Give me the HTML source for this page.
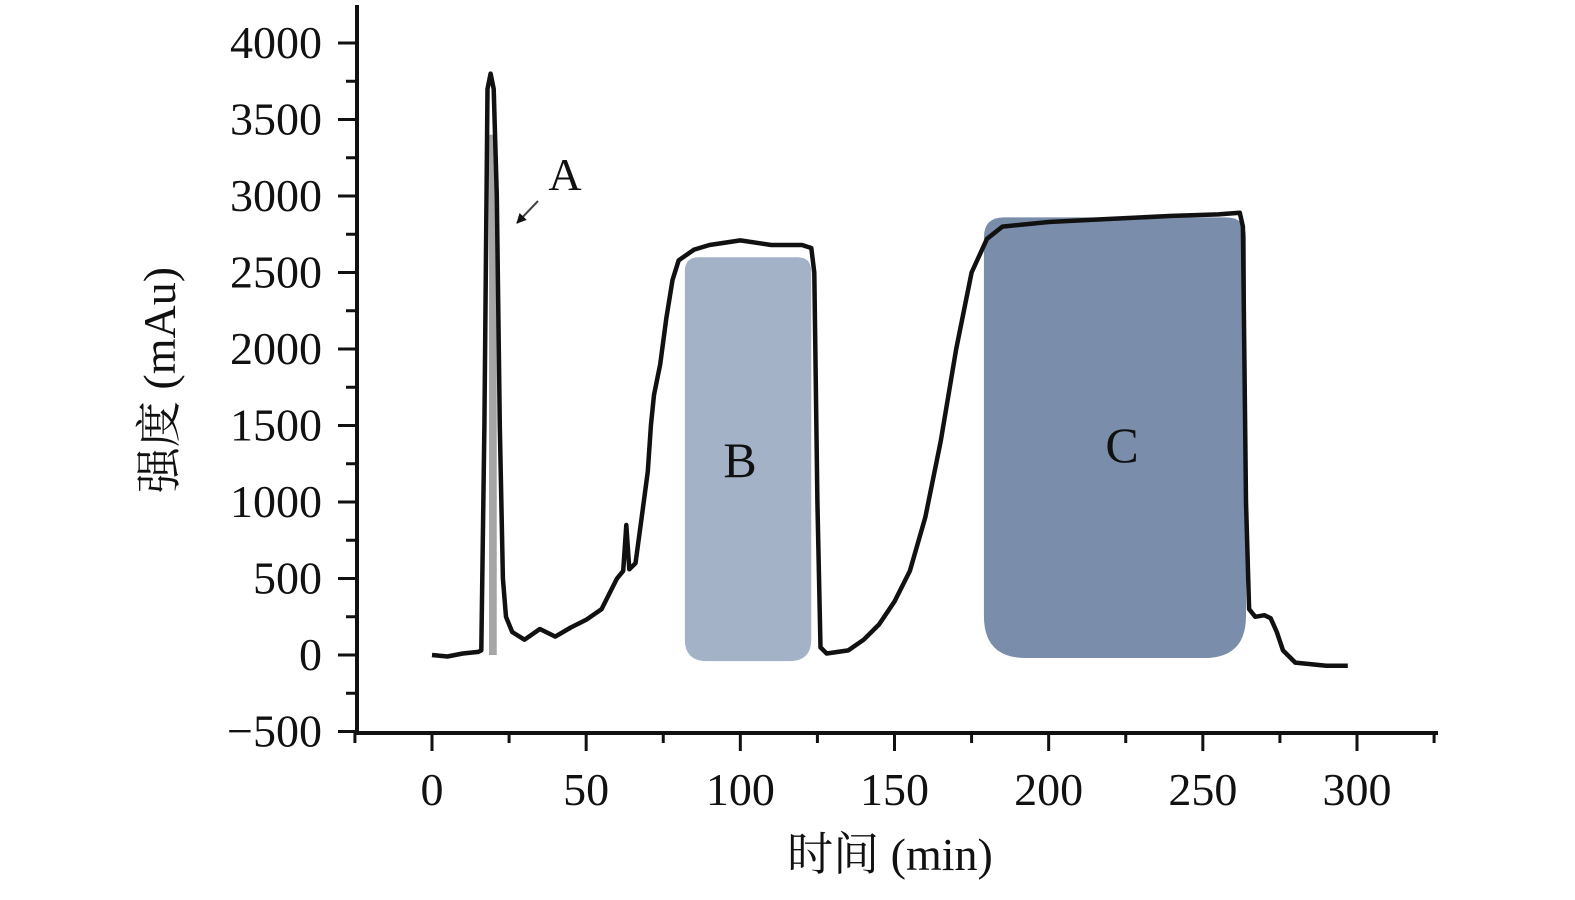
<!DOCTYPE html>
<html><head><meta charset="utf-8"><style>
body{margin:0;background:#fff}
text{font-family:"Liberation Serif","Noto Serif CJK SC",serif;fill:#111}
</style></head><body>
<svg id="chart" width="1575" height="895" viewBox="0 0 1575 895" xmlns="http://www.w3.org/2000/svg">
<defs><marker id="ah" viewBox="0 0 10 10" refX="9" refY="5" markerWidth="5" markerHeight="5" orient="auto"><path d="M0,0L10,5L0,10z" fill="#111"/></marker></defs>
<g id="regions"></g>
<g id="axes"></g>
<path id="trace" fill="none" stroke="#111" stroke-width="4.5" stroke-linejoin="round"/>
<text x="565" y="190" font-size="46" text-anchor="middle">A</text>
<line x1="538" y1="201" x2="517" y2="223" stroke="#444" stroke-width="2" marker-end="url(#ah)"/>
<text x="740" y="477" font-size="50" text-anchor="middle">B</text>
<text x="1122" y="462" font-size="50" text-anchor="middle">C</text>
<text x="890" y="870" font-size="46" text-anchor="middle">时间 (min)</text>
<text transform="translate(175,380) rotate(-90)" font-size="46" text-anchor="middle">强度 (mAu)</text>
</svg>
<script>
const times=[0,5,10,15,16,17,18,19,20,21,22,23,24,26,30,35,40,45,50,55,58,60,62,63,64,66,68,70,71,72,74,76,78,80,85,90,100,110,120,123,124,125,126,128,135,140,145,150,155,160,165,170,175,180,185,200,220,240,255,262,263,264,265,267,270,272,274,276,280,290,297];
const values=[0,-10,10,20,30,1500,3700,3800,3700,3000,1500,500,250,150,100,170,120,180,230,300,420,500,550,850,560,600,900,1200,1500,1700,1900,2200,2450,2580,2650,2680,2710,2680,2680,2660,2500,1000,50,10,30,100,200,350,550,900,1400,2000,2500,2720,2800,2830,2850,2870,2880,2890,2800,1000,300,250,260,240,150,30,-50,-70,-70];
const xTicks=[0,50,100,150,200,250,300];
const yTicks=[-500,0,500,1000,1500,2000,2500,3000,3500,4000];
const regionNames=['region-a','region-b','region-c'];
const regionStart=[18.5,82,179];
const regionEnd=[21,123,264];
const regionTop=[3400,2600,2860];
const regionBottom=[0,-40,-20];
const regionColors=['#a6a6a6','#a3b2c7','#7a8eab'];
const regionRadius=[0,22,42];
const regionTopRadius=[0,14,20];
const X=t=>432+t*(1357-432)/300;
const Y=v=>655-v*(655-43)/4000;
const NS='http://www.w3.org/2000/svg';
const ax=document.getElementById('axes'),rg=document.getElementById('regions');
function mk(p,tag,at){const e=document.createElementNS(NS,tag);for(const k in at)e.setAttribute(k,at[k]);p.appendChild(e);return e;}
regionNames.forEach((n,i)=>{
 const x0=X(regionStart[i]),x1=X(regionEnd[i]),y0=Y(regionTop[i]),y1=Y(regionBottom[i]);
 const r=regionRadius[i],q=regionTopRadius[i];
 const e=mk(rg,'path',{fill:regionColors[i],d:`M${x0+q},${y0}H${x1-q}Q${x1},${y0} ${x1},${y0+q}V${y1-r}Q${x1},${y1} ${x1-r},${y1}H${x0+r}Q${x0},${y1} ${x0},${y1-r}V${y0+q}Q${x0},${y0} ${x0+q},${y0}Z`});
 
 
});
const yl=mk(ax,'line',{x1:357,y1:5,x2:357,y2:734,stroke:'#111','stroke-width':4});


const xl=mk(ax,'line',{x1:355,y1:733,x2:1438,y2:733,stroke:'#111','stroke-width':4});


yTicks.forEach(v=>{
 mk(ax,'line',{x1:338,y1:Y(v),x2:357,y2:Y(v),stroke:'#111','stroke-width':3});
 if(v<4000)mk(ax,'line',{x1:346,y1:Y(v+250),x2:357,y2:Y(v+250),stroke:'#111','stroke-width':3});
 const t=mk(ax,'text',{x:322,y:Y(v)+15,'font-size':46,'text-anchor':'end'});
 t.textContent=v<0?'\u2212'+(-v):v;
 
 
});
for(let t=-25;t<=325;t+=25){
 const major=t%50===0;
 mk(ax,'line',{x1:X(t),y1:733,x2:X(t),y2:major?751:743,stroke:'#111','stroke-width':3});
}
xTicks.forEach(v=>{
 const t=mk(ax,'text',{x:X(v),y:805,'font-size':46,'text-anchor':'middle'});
 t.textContent=v;
 
 
});
document.getElementById('trace').setAttribute('d',times.map((t,i)=>(i?'L':'M')+X(t).toFixed(1)+','+Y(values[i]).toFixed(1)).join(''));
</script>
</body></html>
